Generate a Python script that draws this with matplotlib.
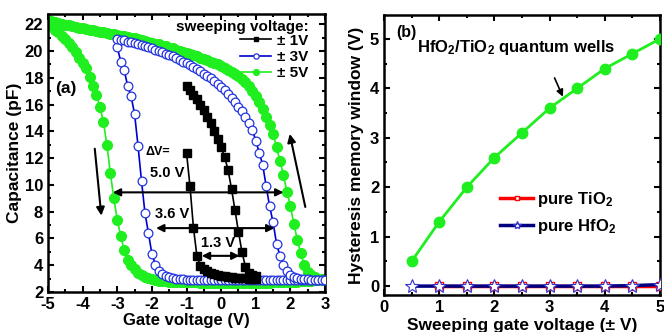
import numpy as np
import matplotlib
matplotlib.use("Agg")
import matplotlib.pyplot as plt
from matplotlib.ticker import MultipleLocator
from matplotlib.lines import Line2D

plt.rcParams['font.family'] = ['Liberation Sans', 'DejaVu Sans']
plt.rcParams['font.weight'] = 'bold'
plt.rcParams['axes.labelweight'] = 'bold'
plt.rcParams['axes.unicode_minus'] = False
plt.rcParams['mathtext.fontset'] = 'custom'
plt.rcParams['mathtext.bf'] = 'Liberation Sans:bold'
plt.rcParams['mathtext.rm'] = 'Liberation Sans:bold'
plt.rcParams['mathtext.default'] = 'bf'

# ---- (a) C-V hysteresis, gate voltage steps of 0.1 V ----
v5 = np.round(np.arange(-5.0, 3.05, 0.1), 1)
v3 = np.round(np.arange(-3.0, 3.05, 0.1), 1)
v1 = np.round(np.arange(-1.0, 1.05, 0.1), 1)

c5_up = [22.3, 22.2, 22.15, 22.1, 22.0, 21.95, 21.9, 21.85, 21.8, 21.75,
         21.7, 21.65, 21.6, 21.55, 21.5, 21.45, 21.4, 21.35, 21.3, 21.25,
         21.2, 21.15, 21.1, 21.05, 21.0, 20.95, 20.9, 20.8, 20.75, 20.7,
         20.6, 20.55, 20.5, 20.4, 20.35, 20.25, 20.2, 20.1, 20.0, 19.95,
         19.85, 19.75, 19.7, 19.6, 19.5, 19.4, 19.3, 19.2, 19.1, 19.0,
         18.9, 18.75, 18.6, 18.45, 18.3, 18.1, 17.9, 17.65, 17.35, 17.0,
         16.6, 16.15, 15.65, 15.1, 14.5, 13.8, 12.8, 11.8, 10.7, 9.5,
         8.4, 7.1, 5.9, 4.9, 4.0, 3.5, 3.25, 3.1, 3.0, 2.95,
         2.9]
c5_down = [22.3, 21.9, 21.6, 21.4, 21.15, 20.9, 20.6, 20.3, 19.9, 19.5,
           19.1, 18.7, 18.05, 17.4, 16.7, 15.8, 14.7, 13.0, 10.9, 9.0,
           7.4, 6.2, 5.1, 4.4, 4.0, 3.7, 3.45, 3.3, 3.15, 3.05,
           2.95, 2.9, 2.85, 2.82, 2.8, 2.78, 2.76, 2.75, 2.74, 2.73,
           2.72, 2.72, 2.71, 2.71, 2.7, 2.7, 2.7, 2.7, 2.7, 2.7,
           2.7, 2.7, 2.7, 2.7, 2.7, 2.7, 2.7, 2.7, 2.7, 2.7,
           2.7, 2.7, 2.7, 2.7, 2.7, 2.72, 2.72, 2.72, 2.74, 2.74,
           2.76, 2.76, 2.78, 2.8, 2.8, 2.82, 2.84, 2.86, 2.88, 2.9,
           2.9]
c3_up = [20.9, 20.85, 20.8, 20.7, 20.65, 20.6, 20.5, 20.45, 20.35, 20.3,
         20.2, 20.1, 20.0, 19.9, 19.8, 19.7, 19.6, 19.45, 19.35, 19.2,
         19.1, 18.95, 18.8, 18.65, 18.5, 18.3, 18.15, 17.95, 17.75, 17.5,
         17.3, 17.05, 16.8, 16.5, 16.2, 15.85, 15.5, 15.1, 14.6, 14.1,
         13.3, 12.4, 11.5, 9.9, 8.4, 7.2, 5.6, 4.7, 4.05, 3.55,
         3.3, 3.15, 3.05, 3.0, 2.97, 2.95, 2.93, 2.92, 2.91, 2.9,
         2.9]
c3_down = [20.3, 19.2, 18.55, 17.4, 16.6, 15.3, 12.9, 10.3, 7.9, 6.4,
           4.85, 4.05, 3.6, 3.35, 3.2, 3.1, 3.05, 3.0, 2.97, 2.95,
           2.93, 2.92, 2.91, 2.9, 2.9, 2.9, 2.9, 2.9, 2.9, 2.9,
           2.9, 2.9, 2.9, 2.9, 2.9, 2.9, 2.9, 2.9, 2.9, 2.9,
           2.9, 2.9, 2.9, 2.9, 2.9, 2.9, 2.9, 2.9, 2.9, 2.9,
           2.9, 2.9, 2.9, 2.9, 2.9, 2.9, 2.9, 2.9, 2.9, 2.9,
           2.9]
c1_up = [17.4, 17.1, 16.7, 16.4, 16.0, 15.6, 15.1, 14.6, 14.0, 13.4,
         12.8, 12.1, 11.1, 9.7, 8.1, 6.5, 5.0, 3.9, 3.45, 3.3, 3.2]
c1_down = [12.4, 9.9, 6.8, 4.7, 3.95, 3.7, 3.55, 3.45, 3.35, 3.28,
           3.22, 3.17, 3.13, 3.1, 3.07, 3.05, 3.03, 3.02, 3.0, 3.0, 3.0]

# ---- (b) memory window vs sweep voltage ----
sweep = [0.5, 1.0, 1.5, 2.0, 2.5, 3.0, 3.5, 4.0, 4.5, 5.0]
qw = [0.5, 1.3, 2.0, 2.6, 3.1, 3.6, 4.0, 4.4, 4.7, 5.0]
sweep_tio2 = [1.0, 1.5, 2.0, 2.5, 3.0, 3.5, 4.0, 4.5, 5.0]
tio2 = [0, 0, 0, 0, 0, 0, 0, 0, 0]
hfo2 = [0, 0, 0, 0, 0, 0, 0, 0, 0.01, 0.03]

G = '#1fee1f'
B = '#2233dd'
NAVY = '#000080'


def style(ax):
    ax.tick_params(which='both', direction='in', top=True, right=True,
                   width=1.5, labelsize=12)
    ax.tick_params(which='major', length=4.5)
    ax.tick_params(which='minor', length=2.5)
    for s in ax.spines.values():
        s.set_linewidth(1.8)


fig = plt.figure(figsize=(6.64, 3.32), dpi=100)
ax1 = fig.add_axes([0.0723, 0.1205, 0.4172, 0.837])
ax2 = fig.add_axes([0.5783, 0.1114, 0.4157, 0.843])

# panel a
ax1.plot(v5, c5_down, '-o', color=G, lw=1.2, ms=7, mec=G, mfc=G, zorder=2)
lg, = ax1.plot(v5, c5_up, '-o', color=G, lw=1.2, ms=7, mec=G, mfc=G, zorder=2)
ax1.plot(v3, c3_down, '-o', color='#0000cc', lw=1.2, ms=6.3, mec=B, mfc='white', mew=0.9, zorder=3)
lb, = ax1.plot(v3, c3_up, '-o', color='#0000cc', lw=1.2, ms=6.3, mec=B, mfc='white', mew=0.9, zorder=3)
ax1.plot(v1, c1_down, '-s', color='k', lw=1.2, ms=5.3, zorder=4)
lk, = ax1.plot(v1, c1_up, '-s', color='k', lw=1.2, ms=5.3, zorder=4)

ax1.set_xlim(-5, 3)
ax1.set_ylim(2, 22.75)
ax1.xaxis.set_major_locator(MultipleLocator(1))
ax1.xaxis.set_minor_locator(MultipleLocator(0.5))
ax1.yaxis.set_major_locator(MultipleLocator(2))
ax1.yaxis.set_minor_locator(MultipleLocator(1))
style(ax1)
ax1.set_xlabel('Gate voltage (V)', fontsize=12, labelpad=1)
ax1.set_ylabel('Capacitance (pF)', fontsize=12.5, labelpad=2)

# legend title drawn as its own text so it right-aligns with the entries
ax1.text(0.94, 0.953, 'sweeping voltage:', transform=ax1.transAxes,
         fontsize=11, ha='right', va='center')
ax1.legend(handles=[lk, lb, lg], labels=['± 1V', '± 3V', '± 5V'],
           loc='upper right', bbox_to_anchor=(0.94, 0.93),
           frameon=False, fontsize=11, handlelength=2.0, handletextpad=0.4,
           labelspacing=0.15, borderpad=0, borderaxespad=0,
           markerscale=0.6)

arr = dict(arrowstyle='<|-|>', color='k', lw=1.5, mutation_scale=11,
           shrinkA=0, shrinkB=0)
ax1.annotate('', xy=(1.8, 9.44), xytext=(-3.13, 9.44), arrowprops=arr, zorder=5)
ax1.annotate('', xy=(1.54, 6.77), xytext=(-1.88, 6.77), arrowprops=arr, zorder=5)
ax1.annotate('', xy=(0.53, 4.7), xytext=(-0.56, 4.7), arrowprops=arr, zorder=5)
one = dict(arrowstyle='-|>', color='k', lw=1.5, mutation_scale=12,
           shrinkA=0, shrinkB=0)
ax1.annotate('', xy=(-3.46, 7.7), xytext=(-3.65, 12.7), arrowprops=one)
ax1.annotate('', xy=(1.98, 13.8), xytext=(2.43, 8.35), arrowprops=one)

ax1.text(-1.84, 12.45, 'ΔV=', fontsize=9, ha='center', va='center')
ax1.text(-1.55, 10.86, '5.0 V', fontsize=10.5, ha='center', va='center')
ax1.text(-1.42, 7.8, '3.6 V', fontsize=10.5, ha='center', va='center')
ax1.text(-0.1, 5.63, '1.3 V', fontsize=10.5, ha='center', va='center')
ax1.text(-4.49, 17.2, '(a)', fontsize=12.5, ha='center', va='center')

# panel b
ax2.plot(sweep, qw, '-', color=G, lw=2, zorder=2)
ax2.plot(sweep_tio2, tio2, '-', color='red', lw=2.5, zorder=2)
ax2.plot(sweep, hfo2, '-', color=NAVY, lw=2.5, zorder=2)
ax2.plot(sweep, qw, 'o', color=G, ms=7.5, zorder=3)
ax2.plot(sweep_tio2, tio2, 's', ms=6, mfc='white', mec='red', mew=1, zorder=3)
ax2.plot(sweep, hfo2, '*', ms=10, mfc='white', mec='#3333cc', mew=0.8, zorder=4)

ax2.set_xlim(0, 5)
ax2.set_ylim(-0.18, 5.48)
ax2.xaxis.set_major_locator(MultipleLocator(1))
ax2.xaxis.set_minor_locator(MultipleLocator(0.5))
ax2.yaxis.set_major_locator(MultipleLocator(1))
ax2.yaxis.set_minor_locator(MultipleLocator(0.5))
style(ax2)
ax2.set_xlabel('Sweeping gate voltage (± V)', fontsize=12.5, labelpad=2)
ax2.set_ylabel('Hysteresis memory window (V)', fontsize=12.5, labelpad=4)

h_t = Line2D([], [], color='red', lw=2.5, marker='s', ms=6, mfc='white', mec='red')
h_h = Line2D([], [], color=NAVY, lw=2.5, marker='*', ms=10, mfc='white', mec='#3333cc')
ax2.legend(handles=[h_t, h_h], labels=[r'pure TiO$_2$', r'pure HfO$_2$'],
           loc='upper left', bbox_to_anchor=(0.42, 0.375), frameon=False,
           fontsize=12, handlelength=2.0, handletextpad=0.2,
           labelspacing=0.45, borderpad=0, borderaxespad=0, markerscale=0.6)

ax2.text(0.59, 4.82, r'HfO$_2$/TiO$_2$ quantum wells', fontsize=12,
         ha='left', va='center')
ax2.annotate('', xy=(3.24, 3.83), xytext=(3.09, 4.21),
             arrowprops=dict(arrowstyle='-|>', color='k', lw=1.2,
                             mutation_scale=10, shrinkA=0, shrinkB=0))
ax2.text(0.40, 5.12, '(b)', fontsize=11.5, ha='center', va='center')

fig.savefig('out.png', dpi=100)
